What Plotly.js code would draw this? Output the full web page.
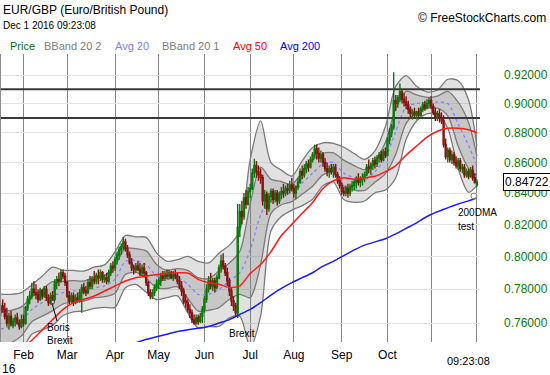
<!DOCTYPE html>
<html><head><meta charset="utf-8">
<script src="https://cdn.plot.ly/plotly-3.0.1.min.js"></script>
<style>html,body{margin:0;padding:0;background:#fff}#chart{width:550px;height:375px}</style>
</head><body><div id="chart"></div>
<script>
// ---------- DATA ----------
const firstDay = "2016-01-15";   // first candle; one candle per weekday
const openP = [
.7660,.7700,.7680,.7640,.7600,.7640,.7590,.7610,.7630,.7600,
.7580,.7620,.7600,.7690,.7740,.7760,.7800,.7780,.7770,.7740,
.7790,.7760,.7800,.7750,.7720,.7760,.7740,.7840,.7860,.7850,
.7900,.7880,.7840,.7760,.7730,.7760,.7720,.7750,.7730,.7780,
.7810,.7790,.7780,.7840,.7820,.7860,.7850,.7880,.7870,.7900,
.7860,.7870,.7850,.7900,.7940,.7930,.7980,.8010,.8040,.8060,
.8090,.8050,.8010,.7960,.7930,.7920,.7940,.7920,.7900,.7930,
.7900,.7840,.7780,.7760,.7780,.7810,.7830,.7850,.7880,.7870,
.7890,.7880,.7900,.7870,.7890,.7880,.7850,.7820,.7790,.7730,
.7720,.7680,.7660,.7620,.7600,.7630,.7610,.7640,.7680,.7740,
.7800,.7850,.7820,.7850,.7810,.7870,.7930,.7970,.7940,.7900,
.7850,.7790,.7730,.7700,.7660,.8180,.8280,.8250,.8370,.8330,
.8410,.8430,.8530,.8580,.8540,.8520,.8500,.8350,.8390,.8300,
.8380,.8410,.8360,.8400,.8350,.8390,.8410,.8400,.8430,.8420,
.8450,.8430,.8400,.8440,.8470,.8540,.8520,.8560,.8590,.8570,
.8620,.8650,.8690,.8660,.8630,.8650,.8600,.8560,.8540,.8560,
.8540,.8570,.8520,.8480,.8450,.8410,.8400,.8430,.8400,.8440,
.8450,.8470,.8490,.8470,.8490,.8500,.8520,.8570,.8560,.8580,
.8610,.8590,.8630,.8650,.8620,.8670,.8650,.8750,.8800,.8840,
.9020,.9000,.9040,.9080,.9030,.9010,.8990,.8960,.8930,.8940,
.8920,.8940,.8920,.8960,.8990,.8970,.9000,.9020,.8980,.8940,
.8910,.8930,.8900,.8880,.8720,.8640,.8680,.8620,.8650,.8600,
.8580,.8610,.8560,.8570,.8520,.8540,.8510,.8550,.8500,.8455];
const highP = [
.7720,.7740,.7720,.7690,.7660,.7670,.7630,.7650,.7660,.7620,
.7650,.7650,.7700,.7760,.7790,.7840,.7850,.7830,.7800,.7810,
.7800,.7820,.7820,.7770,.7780,.7790,.7860,.7880,.7900,.7920,
.7920,.7900,.7850,.7790,.7780,.7780,.7770,.7780,.7800,.7830,
.7840,.7820,.7860,.7880,.7880,.7910,.7900,.7920,.7920,.7910,
.7890,.7900,.7920,.7960,.7970,.8000,.8030,.8060,.8080,.8120,
.8110,.8070,.8030,.7990,.7950,.7960,.7970,.7960,.7950,.7960,
.7910,.7850,.7800,.7800,.7830,.7860,.7870,.7900,.7910,.7910,
.7920,.7920,.7910,.7910,.7920,.7900,.7880,.7850,.7810,.7770,
.7740,.7710,.7680,.7650,.7650,.7650,.7660,.7700,.7760,.7830,
.7880,.7900,.7870,.7870,.7890,.7950,.8010,.8020,.7960,.7930,
.7870,.7810,.7760,.7720,.8330,.8330,.8350,.8400,.8420,.8440,
.8460,.8560,.8625,.8610,.8580,.8560,.8520,.8420,.8410,.8400,
.8430,.8430,.8420,.8420,.8410,.8440,.8460,.8450,.8460,.8480,
.8500,.8460,.8450,.8500,.8560,.8580,.8590,.8610,.8620,.8640,
.8670,.8720,.8720,.8700,.8680,.8670,.8630,.8600,.8580,.8590,
.8590,.8590,.8540,.8510,.8470,.8440,.8450,.8460,.8460,.8480,
.8490,.8510,.8530,.8510,.8530,.8540,.8590,.8620,.8600,.8630,
.8640,.8650,.8670,.8680,.8690,.8700,.8770,.8830,.8860,.9220,
.9060,.9060,.9140,.9100,.9070,.9050,.9020,.8980,.8960,.8970,
.8950,.8970,.8980,.9010,.9020,.9030,.9040,.9050,.9000,.8970,
.8950,.8960,.8940,.8920,.8760,.8700,.8700,.8680,.8670,.8640,
.8630,.8630,.8590,.8590,.8560,.8560,.8570,.8580,.8530,.8490];
const lowP = [
.7640,.7660,.7620,.7580,.7560,.7580,.7570,.7580,.7590,.7560,
.7570,.7580,.7590,.7670,.7710,.7740,.7760,.7740,.7720,.7730,
.7740,.7750,.7730,.7700,.7710,.7730,.7730,.7800,.7820,.7840,
.7860,.7820,.7750,.7710,.7720,.7700,.7710,.7720,.7720,.7660,
.7770,.7760,.7770,.7800,.7800,.7830,.7830,.7830,.7850,.7840,
.7840,.7830,.7840,.7880,.7900,.7910,.7950,.7980,.8010,.8040,
.8030,.7990,.7950,.7910,.7890,.7900,.7910,.7880,.7880,.7880,
.7820,.7760,.7740,.7740,.7760,.7790,.7800,.7820,.7850,.7850,
.7860,.7860,.7860,.7850,.7860,.7830,.7800,.7760,.7710,.7690,
.7660,.7630,.7600,.7590,.7590,.7590,.7600,.7600,.7660,.7720,
.7780,.7800,.7790,.7780,.7800,.7860,.7900,.7920,.7880,.7820,
.7760,.7700,.7670,.7640,.7630,.8120,.8200,.8230,.8300,.8320,
.8370,.8420,.8500,.8500,.8480,.8460,.8320,.8300,.8260,.8280,
.8340,.8330,.8340,.8320,.8330,.8360,.8370,.8380,.8390,.8400,
.8410,.8370,.8360,.8420,.8460,.8490,.8500,.8530,.8540,.8560,
.8600,.8630,.8620,.8600,.8600,.8570,.8540,.8510,.8500,.8520,
.8500,.8500,.8460,.8430,.8390,.8380,.8380,.8370,.8380,.8410,
.8420,.8430,.8450,.8440,.8450,.8470,.8510,.8530,.8520,.8550,
.8560,.8570,.8600,.8600,.8610,.8630,.8640,.8720,.8770,.8820,
.8950,.8970,.9010,.9000,.8980,.8960,.8930,.8900,.8890,.8900,
.8890,.8900,.8910,.8940,.8950,.8960,.8970,.8960,.8920,.8880,
.8880,.8870,.8860,.8700,.8620,.8600,.8600,.8590,.8580,.8560,
.8550,.8540,.8530,.8500,.8500,.8490,.8500,.8480,.8460,.8440];
const closeP = [
.7700,.7680,.7640,.7600,.7640,.7590,.7610,.7630,.7600,.7580,
.7620,.7600,.7690,.7740,.7760,.7800,.7780,.7770,.7740,.7790,
.7760,.7800,.7750,.7720,.7760,.7740,.7840,.7860,.7850,.7900,
.7880,.7840,.7760,.7730,.7760,.7720,.7750,.7730,.7780,.7810,
.7790,.7780,.7840,.7820,.7860,.7850,.7880,.7870,.7900,.7860,
.7870,.7850,.7900,.7940,.7930,.7980,.8010,.8040,.8060,.8090,
.8050,.8010,.7960,.7930,.7920,.7940,.7920,.7900,.7930,.7900,
.7840,.7780,.7760,.7780,.7810,.7830,.7850,.7880,.7870,.7890,
.7880,.7900,.7870,.7890,.7880,.7850,.7820,.7790,.7730,.7720,
.7680,.7660,.7620,.7600,.7630,.7610,.7640,.7680,.7740,.7800,
.7850,.7820,.7850,.7810,.7870,.7930,.7970,.7940,.7900,.7850,
.7790,.7730,.7700,.7660,.8180,.8280,.8250,.8370,.8330,.8410,
.8430,.8530,.8580,.8540,.8520,.8500,.8350,.8390,.8300,.8380,
.8410,.8360,.8400,.8350,.8390,.8410,.8400,.8430,.8420,.8450,
.8430,.8400,.8440,.8470,.8540,.8520,.8560,.8590,.8570,.8620,
.8650,.8690,.8660,.8630,.8650,.8600,.8560,.8540,.8560,.8540,
.8570,.8520,.8480,.8450,.8410,.8400,.8430,.8400,.8440,.8450,
.8470,.8490,.8470,.8490,.8500,.8520,.8570,.8560,.8580,.8610,
.8590,.8630,.8650,.8620,.8670,.8650,.8750,.8800,.8840,.9020,
.9000,.9040,.9080,.9030,.9010,.8990,.8960,.8930,.8940,.8920,
.8940,.8920,.8960,.8990,.8970,.9000,.9020,.8980,.8940,.8910,
.8930,.8900,.8880,.8720,.8640,.8680,.8620,.8650,.8600,.8580,
.8610,.8560,.8570,.8520,.8540,.8510,.8550,.8500,.8470,.84722];

// weekly readings (every 5th candle, i.e. each Friday, plus the last day)
const avg20 = [
.7565,.7580,.7610,.7680,.7720,.7760,.7780,.7790,.7790,.7810,
.7820,.7860,.7970,.7975,.7950,.7880,.7860,.7870,.7830,.7770,
.7770,.7800,.7850,.7900,.8040,.8260,.8380,.8400,.8400,.8465,
.8530,.8590,.8600,.8530,.8500,.8485,.8540,.8630,.8810,.8975,
.9000,.9005,.9010,.9000,.8860,.8715,.8580];
const bandSigma = [
.0103,.0095,.0085,.0073,.0080,.0087,.0068,.0062,.0060,.0062,
.0064,.0084,.0080,.0073,.0084,.0071,.0055,.0055,.0085,.0100,
.0095,.0110,.0110,.0130,.0290,.0310,.0110,.0075,.0055,.0073,
.0085,.0071,.0064,.0086,.0080,.0068,.0069,.0105,.0155,.0110,
.0060,.0038,.0042,.0085,.0150,.0155,.0065];
const avg50 = [   // from the 3rd weekly point on
.745,.750,.756,.762,.768,.772,.774,.776,.779,.782,
.785,.787,.788,.789,.7895,.790,.7898,.786,.784,.783,
.781,.782,.7895,.795,.803,.813,.820,.827,.834,.843,
.848,.850,.849,.850,.851,.854,.858,.865,.871,.877,
.881,.883,.883,.882,.880];
const avg200 = [  // from the 14th weekly point on
.7485,.7505,.752,.7535,.755,.756,.757,.758,.760,.762,
.765,.768,.772,.7765,.7805,.784,.787,.790,.794,.797,
.8005,.804,.807,.809,.811,.814,.8175,.821,.825,.828,
.8305,.833,.835,.837];
const resistance = [0.910, 0.890];
const yTicks = [0.76,0.78,0.80,0.82,0.84,0.86,0.88,0.90,0.92];
const monthDays = ["2016-02-01","2016-03-01","2016-04-01","2016-05-02","2016-06-01","2016-07-01","2016-08-01","2016-09-01","2016-10-03","2016-11-01","2016-12-01"];
const monthLabels = ["Feb","Mar","Apr","May","Jun","Jul","Aug","Sep","Oct","","" ];
const lastPrice = 0.84722;

// ---------- BUILD ----------
function tradingDays(start, n){
  const out=[]; const d=new Date(start+"T00:00:00Z");
  while(out.length<n){ const w=d.getUTCDay(); if(w!==0&&w!==6) out.push(d.toISOString().slice(0,10)); d.setUTCDate(d.getUTCDate()+1); }
  return out;
}
const days = tradingDays(firstDay, closeP.length);
const wk = []; for(let i=0;i<days.length;i+=5) wk.push(days[i]); wk.push(days[days.length-1]);
const up2 = avg20.map((m,i)=>m+2*bandSigma[i]), lo2 = avg20.map((m,i)=>m-2*bandSigma[i]);
const up1 = avg20.map((m,i)=>m+bandSigma[i]),   lo1 = avg20.map((m,i)=>m-bandSigma[i]);

const xr = ["2016-01-14 16:48","2016-12-02 12:00"];
const yr = [Math.log10(0.74896), Math.log10(0.93501)];
const bandLine = {color:'#7a7a7a', width:1.3, shape:'spline', smoothing:0.8};
const F = 'Liberation Sans, Arial, sans-serif';

const traces = [
 {x:wk, y:lo2, type:'scatter', mode:'lines', line:bandLine, hoverinfo:'skip'},
 {x:wk, y:up2, type:'scatter', mode:'lines', line:bandLine, fill:'tonexty', fillcolor:'rgba(128,128,128,0.24)', hoverinfo:'skip'},
 {x:wk, y:lo1, type:'scatter', mode:'lines', line:bandLine, hoverinfo:'skip'},
 {x:wk, y:up1, type:'scatter', mode:'lines', line:bandLine, fill:'tonexty', fillcolor:'rgba(128,128,128,0.26)', hoverinfo:'skip'},
 {x:wk, y:avg20, type:'scatter', mode:'lines', line:{color:'#8080ff', width:1.3, dash:'3px,3px', shape:'spline', smoothing:0.8}},
 {x:[xr[0],xr[1]], y:[resistance[0],resistance[0]], type:'scatter', mode:'lines', line:{color:'#3a3a3a', width:2}},
 {x:[xr[0],xr[1]], y:[resistance[1],resistance[1]], type:'scatter', mode:'lines', line:{color:'#3a3a3a', width:2}},
 {x:days, open:openP, high:highP, low:lowP, close:closeP, type:'candlestick', xaxis:'x2', yaxis:'y2',
  whiskerwidth:0,
  increasing:{line:{color:'#0a780a', width:1.4}, fillcolor:'#0a780a'},
  decreasing:{line:{color:'#861212', width:1.4}, fillcolor:'#861212'}},
 {x:wk.slice(2), y:avg50, type:'scatter', mode:'lines', xaxis:'x2', yaxis:'y2', line:{color:'#ff1a1a', width:1.5, shape:'spline', smoothing:0.6}},
 {x:wk.slice(13), y:avg200, type:'scatter', mode:'lines', xaxis:'x2', yaxis:'y2', line:{color:'#1a1aff', width:1.5, shape:'spline', smoothing:0.6}}
];

const W=480, T=54, B=342;
const px = x=>x/W, py = y=>(B-y)/(B-T);
function txt(x,y,t,opt){ return Object.assign({xref:'paper',yref:'paper',x:px(x),y:py(y),text:t,showarrow:false,xanchor:'left',yanchor:'middle',font:{family:F,size:11,color:'#000'}},opt||{}); }

const ann = [
 txt(1,10,'EUR/GBP (Euro/British Pound)',{font:{family:F,size:12,color:'#000'}}),
 txt(1,26,'Dec 1 2016 09:23:08',{font:{family:F,size:10,color:'#000'}}),
 txt(548,18,'© FreeStockCharts.com',{xanchor:'right',font:{family:F,size:12,color:'#000'}}),
 txt(8,46,'Price',{font:{family:F,size:11,color:'#0b6e0b'}}),
 txt(42,46,'BBand 20 2',{font:{family:F,size:11,color:'#808080'}}),
 txt(113,46,'Avg 20',{font:{family:F,size:11,color:'#8080ff'}}),
 txt(160,46,'BBand 20 1',{font:{family:F,size:11,color:'#808080'}}),
 txt(231,46,'Avg 50',{font:{family:F,size:11,color:'#ff0000'}}),
 txt(278,46,'Avg 200',{font:{family:F,size:11,color:'#0000ff'}}),
 txt(0,369,'16',{font:{family:F,size:12,color:'#000'}}),
 txt(468,361,'09:23:08',{xanchor:'center',font:{family:F,size:11,color:'#000'}}),
 txt(45,327,'Boris',{font:{family:F,size:10,color:'#000'}}),
 txt(45,340,'Brexit',{font:{family:F,size:10,color:'#000'}}),
 txt(242,333,'Brexit',{xanchor:'center',font:{family:F,size:10,color:'#000'}}),
 txt(456,213,'200DMA',{font:{family:F,size:10,color:'#000'}}),
 txt(456,226,'test',{font:{family:F,size:10,color:'#000'}}),
 {xref:'paper', yref:'y', x:px(503), y:Math.log10(lastPrice), text:lastPrice.toFixed(5), showarrow:false,
  xanchor:'left', yanchor:'middle', bgcolor:'#fff', bordercolor:'#000', borderwidth:1, borderpad:1,
  font:{family:F,size:12,color:'#000'}}
];

const shapes = [
 {type:'line', xref:'paper', yref:'paper', x0:0.001, x1:0.001, y0:0, y1:1, line:{color:'#8a8a8a', width:1}},
 {type:'line', xref:'paper', yref:'paper', x0:px(52), y0:py(303), x1:px(57), y1:py(321), line:{color:'#000', width:1}},
 {type:'circle', xref:'paper', yref:'paper', x0:px(49.5), y0:py(299.5), x1:px(54.5), y1:py(304.5), line:{color:'#444', width:1}},
 {type:'circle', xref:'paper', yref:'paper', x0:px(471), y0:py(193), x1:px(477), y1:py(199), line:{color:'#888', width:1}}
];

const xBase = {type:'date', range:xr, rangebreaks:[{bounds:['sat','mon']}], rangeslider:{visible:false}, fixedrange:true};
const layout = {
  width:550, height:375, margin:{l:0,r:70,t:54,b:33}, paper_bgcolor:'#fff', plot_bgcolor:'#fff',
  showlegend:false, font:{family:F,size:12,color:'#000'},
  xaxis: Object.assign({}, xBase, {tickvals:monthDays, ticktext:monthLabels, showgrid:true, gridcolor:'#858585', gridwidth:1,
          ticks:'', showline:false, zeroline:false, tickfont:{family:F,size:12,color:'#000'}, ticklabelstandoff:4}),
  yaxis: {type:'log', range:yr, side:'right', tickvals:yTicks, ticktext:yTicks.map(v=>v.toFixed(5)), showgrid:true,
          gridcolor:'#e3e3e3', gridwidth:1, zeroline:false, showline:false, ticks:'', ticklabelstandoff:23,
          tickfont:{family:F,size:12,color:'#0b7a0b'}, fixedrange:true},
  xaxis2: Object.assign({}, xBase, {overlaying:'x', showgrid:false, showticklabels:false, ticks:'', zeroline:false}),
  yaxis2: {type:'log', range:yr, overlaying:'y', side:'right', showgrid:false, showticklabels:false, ticks:'', zeroline:false, fixedrange:true},
  annotations: ann, shapes: shapes
};
Plotly.newPlot('chart', traces, layout, {displayModeBar:false, staticPlot:true});
</script>
</body></html>
